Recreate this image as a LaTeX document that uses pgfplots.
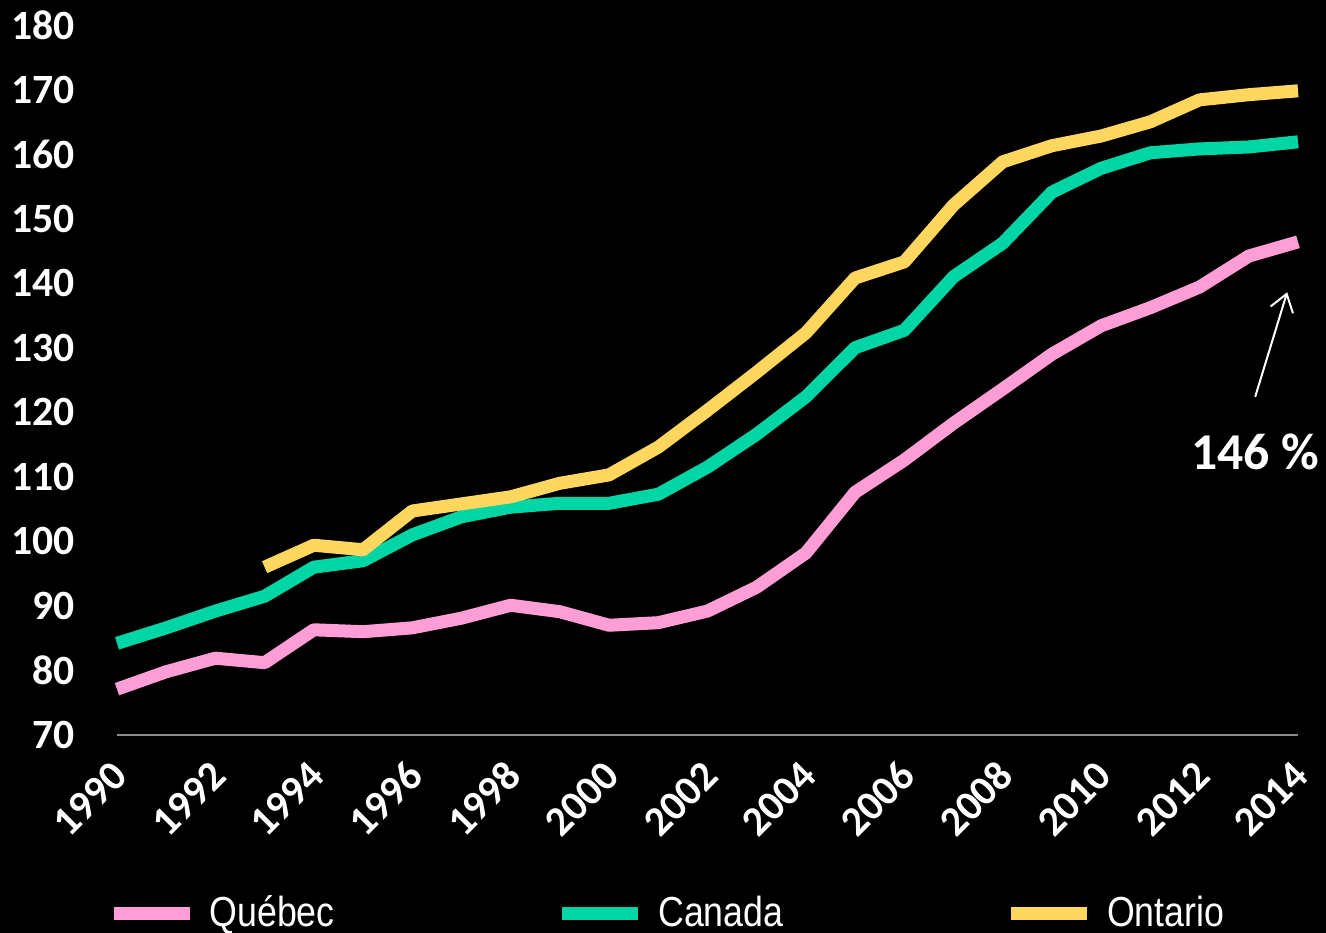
\documentclass[border=0pt]{standalone}
\usepackage{pgfplots}
\pgfplotsset{compat=1.18}
\usepackage{fontspec}
\setmainfont{Carlito}
\newfontfamily\legfont[FakeStretch=0.85]{Liberation Sans}
\usetikzlibrary{arrows.meta}
\definecolor{qcpink}{HTML}{FF9ED6}
\definecolor{cagreen}{HTML}{00D5A5}
\definecolor{onyellow}{HTML}{FFD65E}
\definecolor{axisgrey}{HTML}{8C8C8C}

\pgfplotstableread{
year quebec canada
1990 77.1 84.2
1991 79.8 86.6
1992 81.9 89.2
1993 81.2 91.5
1994 86.3 96.0
1995 86.0 97.0
1996 86.6 101.0
1997 88.1 103.8
1998 90.1 105.3
1999 89.1 105.9
2000 87.0 105.9
2001 87.4 107.3
2002 89.2 111.5
2003 92.9 116.6
2004 98.2 122.4
2005 107.6 130.0
2006 112.6 132.7
2007 118.3 141.0
2008 123.6 146.2
2009 129.0 154.1
2010 133.4 157.8
2011 136.2 160.2
2012 139.4 160.8
2013 144.2 161.1
2014 146.4 161.9
}\qccadata

\pgfplotstableread{
year ontario
1993 96.0
1994 99.4
1995 98.7
1996 104.7
1997 105.8
1998 106.9
1999 109.0
2000 110.3
2001 114.6
2002 120.3
2003 126.2
2004 132.3
2005 140.8
2006 143.3
2007 152.1
2008 158.8
2009 161.3
2010 162.8
2011 165.0
2012 168.4
2013 169.2
2014 169.8
}\ondata

\begin{document}
\begin{tikzpicture}
% cadre fixe de l'image, fond noir un peu plus grand (pas de liseré blanc)
\path[use as bounding box] (-35.1pt,-59.4pt) rectangle (362.7pt,220.5pt);
\fill[black, overlay] (-40pt,-65pt) rectangle (368pt,226pt);
\begin{axis}[
    at={(0pt,0pt)}, anchor=south west,
    scale only axis, width=354.3pt, height=213pt,
    xmin=1990, xmax=2014, ymin=70, ymax=180,
    xtick={1990,1992,...,2014},
    ytick={70,80,...,180},
    axis x line*=bottom, axis y line*=left,
    x axis line style={-, draw=axisgrey, line width=0.6pt},
    y axis line style={draw=none},
    tick style={draw=none},
    /pgf/number format/assume math mode=true,
    /pgf/number format/1000 sep={},
    tick label style={font=\fontsize{12.5}{14}\selectfont\bfseries, text=white},
    yticklabel style={anchor=east, xshift=-9.2pt},
    xticklabel style={xshift=3.4pt, yshift=-7.7pt, rotate=45, anchor=east},
    clip=false,
    legend columns=3,
    legend style={at={(0.4674,-0.2521)}, anchor=center, fill=none, draw=none,
        text=white, font=\legfont\fontsize{12.6}{14}\selectfont,
        /tikz/column 2/.style={column sep=64.4pt},
        /tikz/column 4/.style={column sep=64.4pt}},
    legend image code/.code={\draw[#1, line width=3.9pt, line cap=butt] (0pt,0pt) -- (22.8pt,0pt);
        \path (24.8pt,0pt);},
    every axis plot/.append style={line width=3.9pt, line join=round, no markers},
]
\addplot[qcpink] table[x=year, y=quebec] {\qccadata};
\addlegendentry{Québec}
\addplot[cagreen] table[x=year, y=canada] {\qccadata};
\addlegendentry{Canada}
\addplot[onyellow] table[x=year, y=ontario] {\ondata};
\addlegendentry{Ontario}

\draw[white, line width=0.6pt, -{Straight Barb[length=5pt, width=7pt]}]
    (axis cs:2013.13,122.4) -- (axis cs:2013.78,138.6);
\node[text=white, font=\fontsize{15.5}{18}\selectfont\bfseries]
    at (axis cs:2013.13,113.8) {146 \%};
\end{axis}
\end{tikzpicture}
\end{document}
